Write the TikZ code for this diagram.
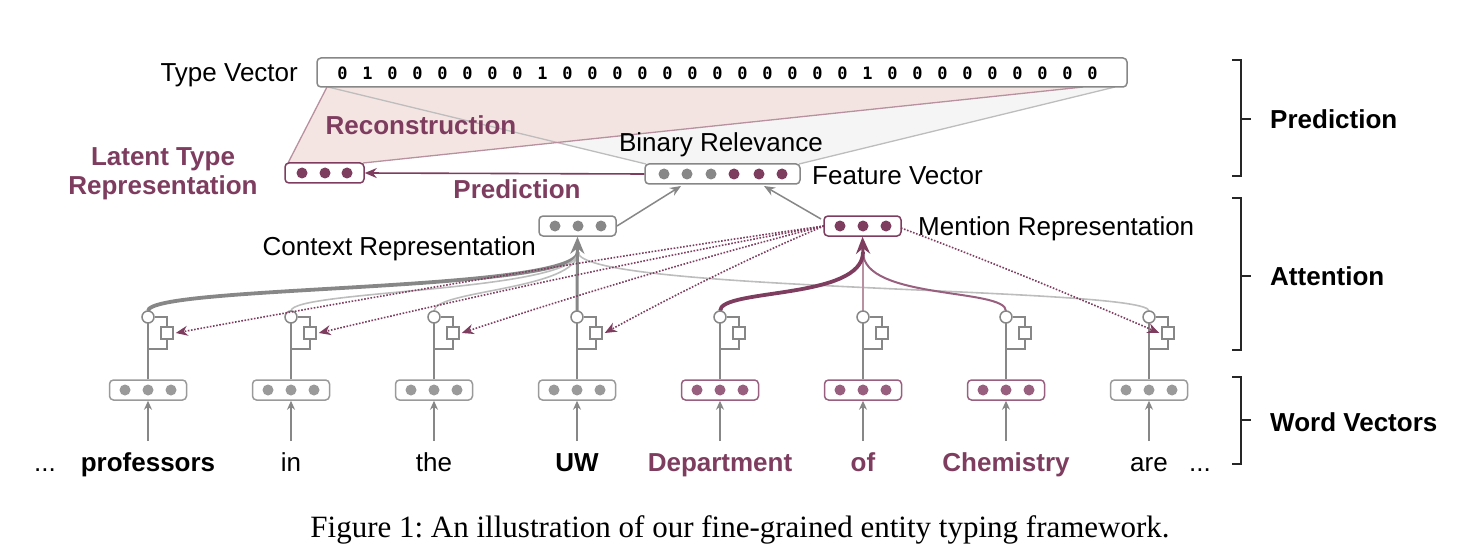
\documentclass[tikz,border=0pt]{standalone}
\usepackage{fontspec}
\setmainfont{Liberation Sans}
\newfontfamily\capfont{Liberation Serif}
\newfontfamily\digitfont{DejaVu Sans Mono}
\usetikzlibrary{arrows.meta,calc}
\definecolor{pur}{HTML}{7E3D5F}
\definecolor{purl}{HTML}{98607E}
\definecolor{purfaint}{HTML}{B8909F}
\definecolor{gr}{HTML}{878787}
\definecolor{grd}{HTML}{9A9A9A}
\definecolor{grl}{HTML}{BDBDBD}
\definecolor{pinkfill}{HTML}{F4E3E0}
\definecolor{grayfill}{HTML}{F5F5F5}
\frenchspacing
\begin{document}
\begin{tikzpicture}[x=1pt,y=-1pt,
  font=\fontsize{26}{30}\selectfont,
  vbox/.style={draw=gr, line width=1.5pt, rounded corners=4pt, minimum width=77pt, minimum height=20pt, inner sep=0pt, fill=white},
  txt/.style={inner sep=0pt, anchor=base},
  boldpur/.style={inner sep=0pt, anchor=base, font=\fontsize{26}{30}\selectfont\bfseries, text=pur},
  attc/.style={circle, draw=gr, fill=white, line width=1.5pt, minimum size=12pt, inner sep=0pt},
  atts/.style={rectangle, draw=gr, fill=white, line width=1.5pt, minimum size=12pt, inner sep=0pt},
  grline/.style={draw=gr, line width=1.5pt},
  wordarrow/.style={draw=gr, line width=1.5pt, -{Stealth[length=9pt,width=8pt]}},
  dotarrow/.style={draw=pur, line width=1.6pt, dash pattern=on 1.6pt off 1.6pt, -{Stealth[length=12pt,width=10pt]}},
  brk/.style={draw=black!85, line width=1.5pt},
  lbl/.style={inner sep=0pt, anchor=base west, font=\fontsize{26}{30}\selectfont\bfseries}]
\useasboundingbox (0,0) rectangle (1461,548);

% ---------- shaded projections ----------
\coordinate (tvA) at (328,87);
\coordinate (tvB) at (1115,87);
\coordinate (tvC) at (327,87);
\coordinate (tvD) at (1083,87);
\coordinate (fA) at (646,164);
\coordinate (fB) at (799,164);
\coordinate (lA) at (288,163);
\coordinate (lB) at (363,163);
\fill[grayfill] (tvA) -- (fA) -- (fB) -- (tvB) -- cycle;
\fill[pinkfill, opacity=0.92] (tvC) -- (lA) -- (lB) -- (tvD) -- cycle;
\draw[grl, line width=1.3pt] (tvA) -- (fA);
\draw[grl, line width=1.3pt] (fB) -- (tvB);
\draw[purfaint, line width=1.3pt] (tvC) -- (lA);
\draw[purfaint, line width=1.3pt] (lB) -- (tvD);

% ---------- type vector ----------
\node[vbox, minimum width=810pt, minimum height=29pt] (tv) at (722,72.5) {};
\foreach \d [count=\i from 0] in {0,1,0,0,0,0,0,0,1,0,0,0,0,0,0,0,0,0,0,0,0,1,0,0,0,0,0,0,0,0,0}
  \node[inner sep=0pt, font=\digitfont\bfseries\fontsize{17}{17}\selectfont] (d\i) at ({342.5+25*\i},73) {\d};
\node[txt, anchor=base east] (tvl) at (298,82) {Type Vector};

% ---------- labels top ----------
\node[boldpur] (recon) at (421,135) {Reconstruction};
\node[txt] (binrel) at (721,152) {Binary Relevance};
\node[boldpur] (lat1) at (163,166) {Latent Type};
\node[boldpur] (lat2) at (163,195) {Representation};
\node[boldpur] (predl) at (517,199) {Prediction};
\node[txt, anchor=base west] (featl) at (812,185) {Feature Vector};
\node[txt, anchor=base east] (ctxl) at (536,255) {Context Representation};
\node[txt, anchor=base west] (menl) at (918,236) {Mention Representation};

% ---------- vector boxes ----------
\node[vbox, draw=pur, minimum width=79pt] (lat) at (324.5,173) {};
\foreach \x in {302,325,347} \fill[pur] (\x,173) circle (5.5);
\node[vbox, minimum width=155pt] (feat) at (722.5,174) {};
\foreach \x in {664,687,711} \fill[gr] (\x,174) circle (5.5);
\foreach \x in {734,759,782} \fill[pur] (\x,174) circle (5.5);
\node[vbox] (ctx) at (577.5,226) {};
\foreach \x in {555,578,601} \fill[gr] (\x,226) circle (5.5);
\node[vbox, draw=pur] (men) at (862.5,226) {};
\foreach \x in {840,863,886} \fill[pur] (\x,226) circle (5.5);

% prediction arrows
\draw[draw=pur, line width=1.6pt, -{Stealth[length=12pt,width=10pt]}] (feat.west) -- (lat.east);
\coordinate (ctxout) at (617,226);
\coordinate (featinL) at (681,186);
\coordinate (menout) at (821,219);
\coordinate (featinR) at (764,186);
\draw[draw=gr, line width=1.5pt, -{Stealth[length=11pt,width=9pt]}] (ctxout) -- (featinL);
\draw[draw=gr, line width=1.5pt, -{Stealth[length=11pt,width=9pt]}] (menout) -- (featinR);

% ---------- word columns ----------
\foreach \i in {1,...,8}{
  \pgfmathsetmacro{\cx}{148+143*(\i-1)}
  \ifnum\i>4 \ifnum\i<8 \def\bc{purl}\else\def\bc{grd}\fi\else\def\bc{grd}\fi
  \node[vbox, draw=\bc] (w\i) at (\cx,390) {};
  \foreach \dx in {-23,0,23} \fill[\bc] ({\cx+\dx},390) circle (5.5);
  \coordinate (a\i) at (\cx,441);
  \draw[wordarrow] (a\i) -- (w\i.south);
  \coordinate (br\i) at (\cx,349);
  \coordinate (bq\i) at ({\cx+19},349);
}

% ---------- attention curves (context) ----------
\coordinate (cm) at (578,252);
\coordinate (mm) at (863,252);
\draw[draw=gr, line width=3.8pt] (148,311) .. controls (148,285) and (578,292) .. (cm);
\draw[draw=grl, line width=1.6pt] (291,311) .. controls (291,290) and (578,292) .. (cm);
\draw[draw=grl, line width=1.6pt] (434,311) .. controls (434,290) and (578,290) .. (cm);
\draw[draw=grl, line width=1.6pt] (1149,311) .. controls (1149,287) and (578,292) .. (cm);
\draw[draw=gr, line width=3pt, -{Stealth[length=17pt,width=14pt]}] (577,311) -- (ctx.south);

% ---------- attention curves (mention) ----------
\draw[draw=purfaint, line width=1.6pt] (863,311) -- (mm);
\draw[draw=purl, line width=2pt] (1006,311) .. controls (1006,288) and (863,300) .. (mm);
\draw[draw=pur, line width=3.8pt] (720,311) .. controls (720,288) and (863,300) .. (mm);
\draw[draw=pur, line width=3pt, -{Stealth[length=17pt,width=14pt]}] (mm) -- (men.south);

% ---------- attention units ----------
\foreach \i in {1,...,8}{
  \pgfmathsetmacro{\cx}{148+143*(\i-1)}
  \draw[grline] (w\i.north) -- (\cx,323);
  \node[attc] (c\i) at (\cx,317) {};
  \node[atts] (s\i) at ({\cx+19},333) {};
  \draw[grline] (c\i.east) -| (s\i.north);
  \draw[grline] (s\i.south) -- (bq\i) -- (br\i);
}

% ---------- dotted attention queries ----------
\coordinate (mw) at (824,226);
\coordinate (me) at (901,228);
\foreach \i in {1,2,3,4}{
  \coordinate (tp\i) at ($(s\i.east)+(2,0)$);
  \draw[dotarrow] (mw) .. controls ($(mw)!0.33!(tp\i)+(0,-5)$) and ($(mw)!0.7!(tp\i)+(0,-4)$) .. (tp\i);
}
\coordinate (tp8) at ($(s8.west)+(-2,0)$);
\draw[dotarrow] (me) .. controls ($(me)!0.33!(tp8)+(0,-3)$) and ($(me)!0.7!(tp8)+(0,-2)$) .. (tp8);

% ---------- words ----------
\node[txt] (dl) at (45,471) {...};
\node[txt, font=\fontsize{26}{30}\selectfont\bfseries] (t1) at (148,471) {professors};
\node[txt] (t2) at (291,471) {in};
\node[txt] (t3) at (434,471) {the};
\node[txt, font=\fontsize{26}{30}\selectfont\bfseries] (t4) at (577,471) {UW};
\node[boldpur] (t5) at (720,471) {Department};
\node[boldpur] (t6) at (863,471) {of};
\node[boldpur] (t7) at (1006,471) {Chemistry};
\node[txt] (t8) at (1149,471) {are};
\node[txt] (dr) at (1200,471) {...};

% ---------- brackets ----------
\draw[brk] (1232,60) -- (1241,60) -- (1241,176) -- (1232,176);
\draw[brk] (1241,119) -- (1251,119);
\draw[brk] (1232,198) -- (1241,198) -- (1241,350) -- (1232,350);
\draw[brk] (1241,276) -- (1251,276);
\draw[brk] (1232,377) -- (1241,377) -- (1241,464) -- (1232,464);
\draw[brk] (1241,420) -- (1251,420);
\node[lbl] (lp) at (1270,129) {Prediction};
\node[lbl] (la) at (1270,285) {Attention};
\node[lbl] (lw) at (1270,431) {Word Vectors};

% ---------- caption ----------
\node[inner sep=0pt, anchor=base, font=\capfont\fontsize{31}{34}\selectfont] (cap) at (740,537) {Figure 1: An illustration of our fine-grained entity typing framework.};
\end{tikzpicture}
\end{document}
